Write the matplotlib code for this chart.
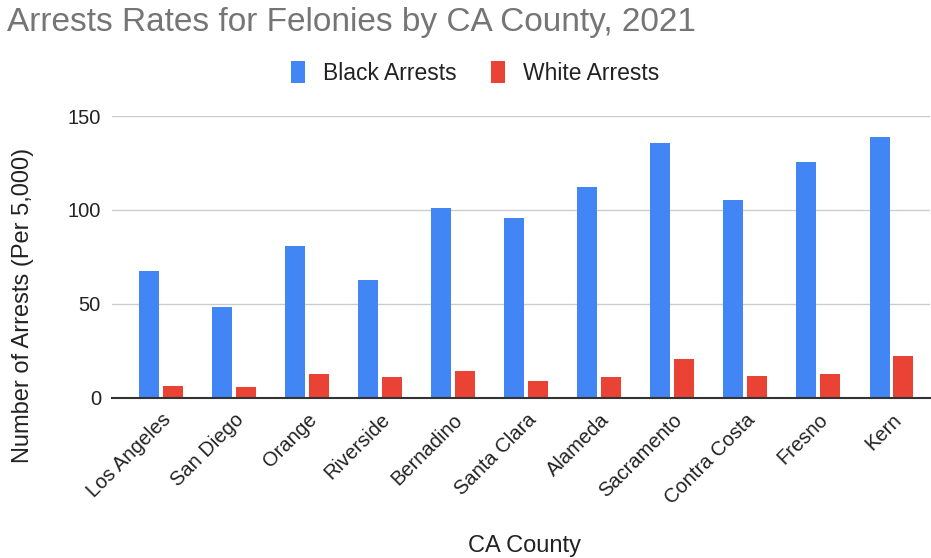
import matplotlib
matplotlib.use("Agg")
import matplotlib.pyplot as plt
import matplotlib.transforms as mtransforms
import numpy as np

counties = ["Los Angeles", "San Diego", "Orange", "Riverside", "Bernadino",
            "Santa Clara", "Alameda", "Sacramento", "Contra Costa", "Fresno", "Kern"]
black_arrests = [67.7, 48.5, 81.0, 62.5, 101.1, 95.9, 112.4, 135.5, 105.5, 125.6, 138.7]
white_arrests = [6.4, 5.5, 12.6, 10.8, 14.2, 8.9, 10.8, 20.4, 11.5, 12.6, 22.2]
yticks = [0, 50, 100, 150]

W, H = 931, 558
plt.rcParams['font.family'] = ['Liberation Sans', 'DejaVu Sans']
fig = plt.figure(figsize=(W / 100, H / 100), dpi=100)
left, right, top, bottom = 112, 930, 116, 397.7
ax = fig.add_axes([left / W, 1 - bottom / H, (right - left) / W, (bottom - top) / H])

x = np.arange(len(counties))
bw = 0.274
off = 0.164
ax.bar(x - off, black_arrests, width=bw, color="#4285F4", label="Black Arrests", zorder=3)
ax.bar(x + off, white_arrests, width=bw, color="#EA4335", label="White Arrests", zorder=3)

ax.set_xlim(-0.671, 10.527)
ax.set_ylim(0, 150)
ax.set_yticks(yticks)
ax.set_yticklabels([str(v) for v in yticks], fontsize=14.5, color="#222222")
ax.set_xticks(x)
ax.set_xticklabels(counties, rotation=45, ha="right", rotation_mode="anchor",
                   fontsize=14.5, color="#222222")
shift = mtransforms.ScaledTranslation(10 / 100, 0, fig.dpi_scale_trans)
for lbl in ax.get_xticklabels():
    lbl.set_transform(lbl.get_transform() + shift)
ax.tick_params(axis="both", length=0)
ax.tick_params(axis="y", pad=8)
ax.tick_params(axis="x", pad=9)
for s in ["top", "right", "left"]:
    ax.spines[s].set_visible(False)
ax.spines["bottom"].set_color("#333333")
ax.spines["bottom"].set_linewidth(1.5)
ax.spines["bottom"].set_zorder(4)
ax.grid(axis="y", color="#cccccc", linewidth=1, zorder=0)
ax.set_axisbelow(True)

fig.text(23 / W, 1 - 305 / H, "Number of Arrests (Per 5,000)", fontsize=17,
         color="#222222", ha="center", va="center", rotation=90)
fig.text(525 / W, 1 - 546 / H, "CA County", fontsize=17, color="#222222",
         ha="center", va="center")

fig.text(7 / W, 1 - 22 / H, "Arrests Rates for Felonies by CA County, 2021",
         fontsize=24, color="#757575", ha="left", va="center")

leg = fig.legend(loc="center", bbox_to_anchor=(475 / W, 1 - 73 / H), ncol=2,
                 frameon=False, fontsize=16.5, handlelength=0.6, handleheight=1.1,
                 handletextpad=0.8, columnspacing=1.5)
for t in leg.get_texts():
    t.set_color("#222222")

fig.savefig("out.png", dpi=100)
